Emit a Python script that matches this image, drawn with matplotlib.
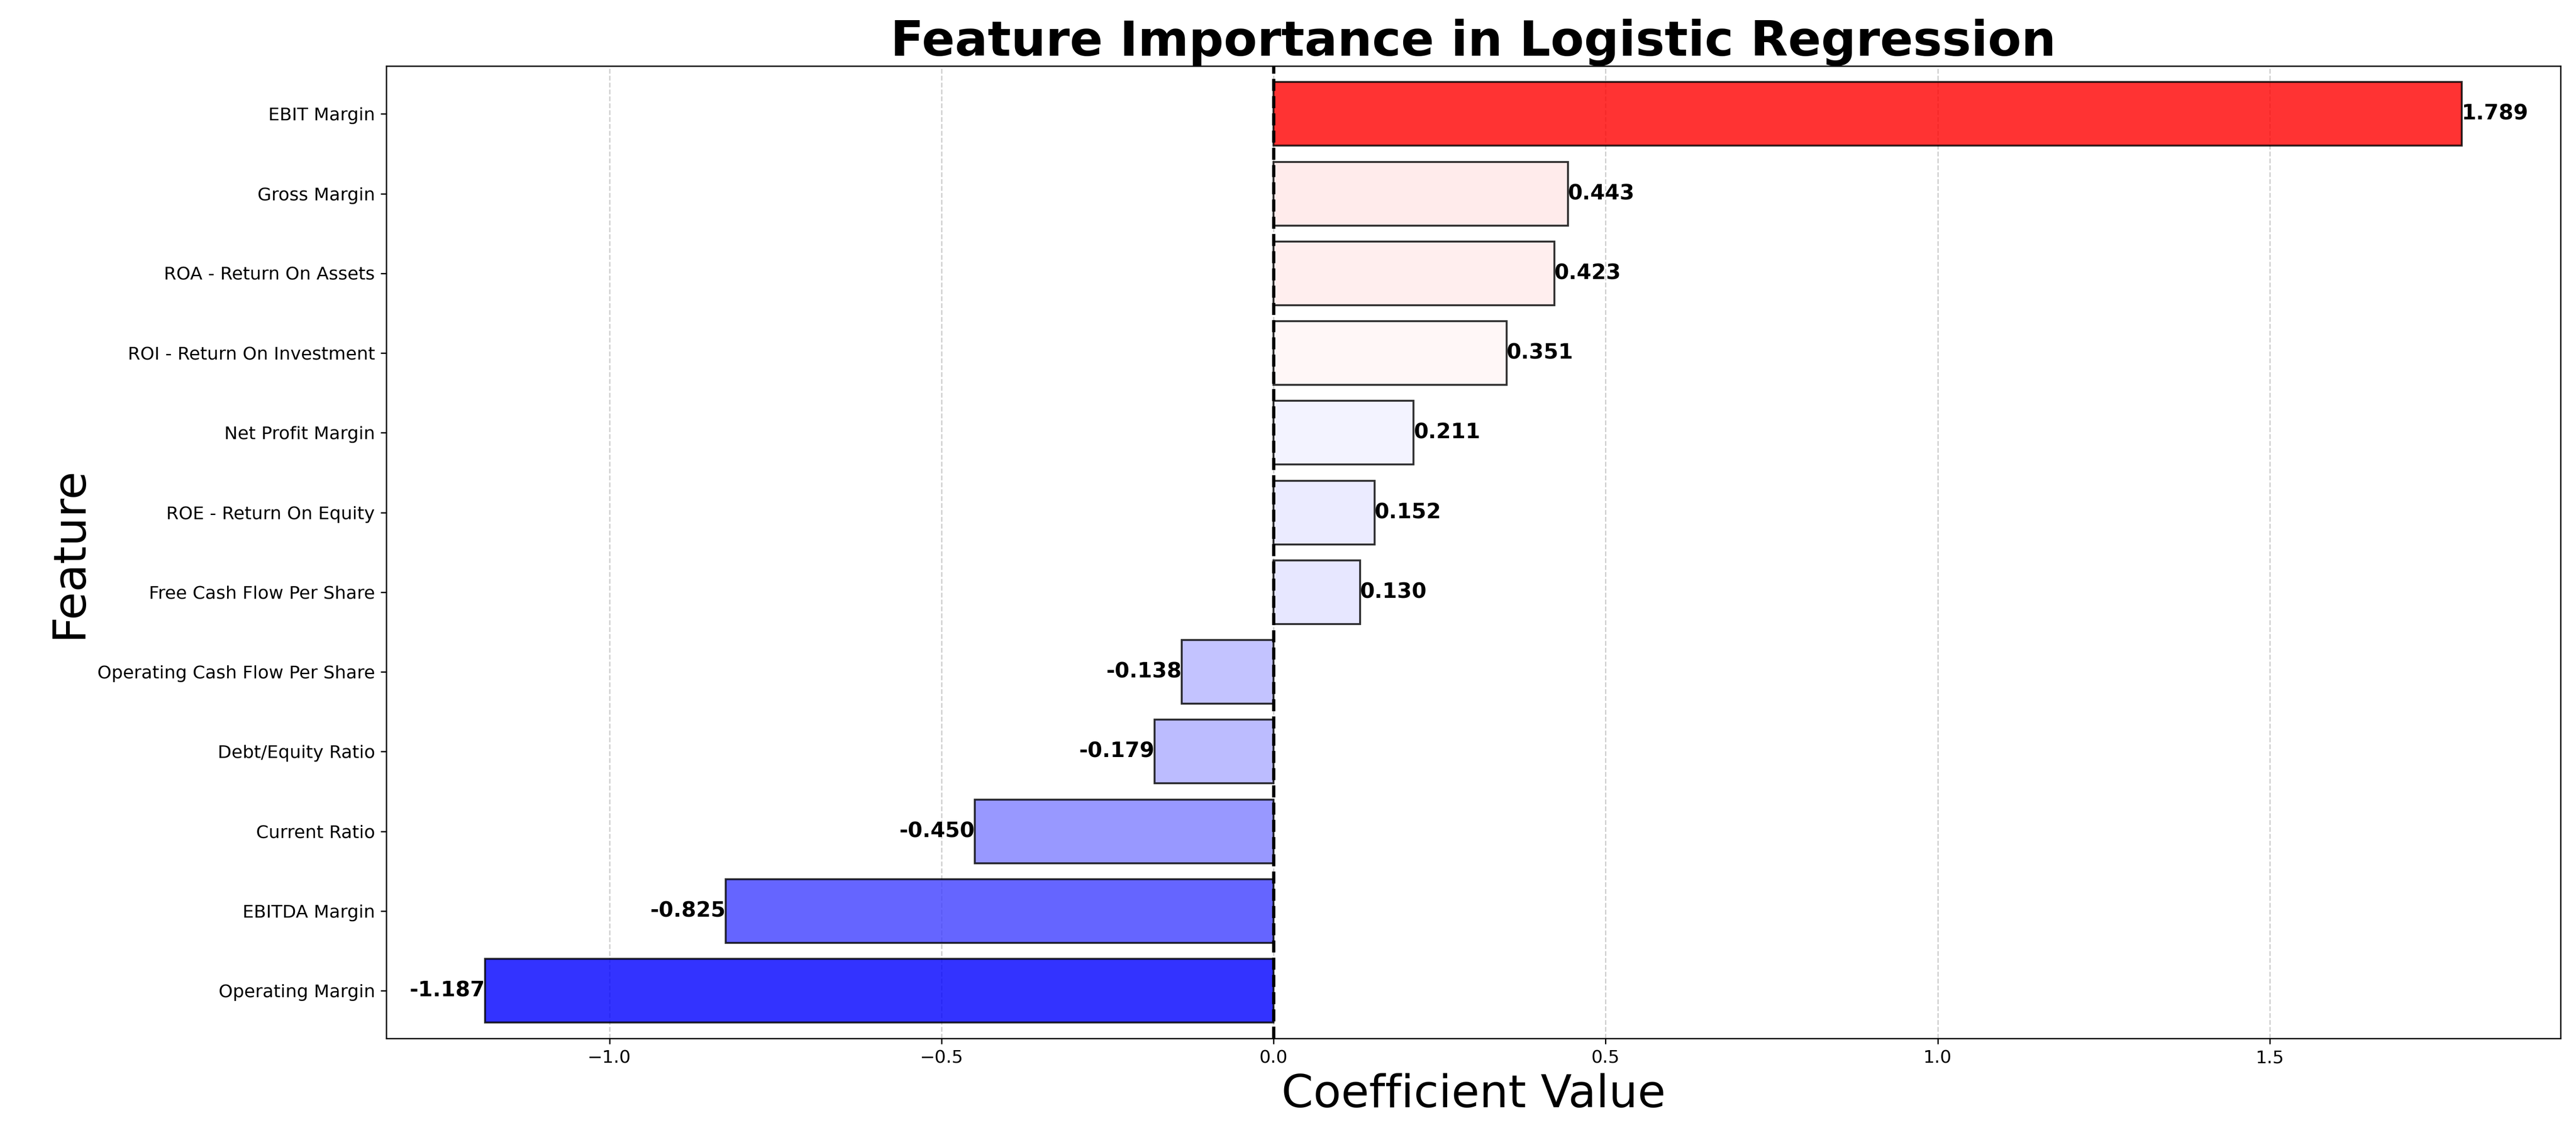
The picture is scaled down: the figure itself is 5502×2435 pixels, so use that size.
import numpy as np
import matplotlib.pyplot as plt
import matplotlib.colors as mcolors

features = ['Operating Margin', 'EBITDA Margin', 'Current Ratio', 'Debt/Equity Ratio',
            'Operating Cash Flow Per Share', 'Free Cash Flow Per Share', 'ROE - Return On Equity',
            'Net Profit Margin', 'ROI - Return On Investment', 'ROA - Return On Assets',
            'Gross Margin', 'EBIT Margin']
coefs = [-1.187, -0.825, -0.450, -0.179, -0.138, 0.130, 0.152, 0.211, 0.351, 0.423, 0.443, 1.789]

coefs = np.array(coefs)
norm = mcolors.Normalize(vmin=coefs.min(), vmax=coefs.max())
colors = plt.cm.bwr(norm(coefs))

fig, ax = plt.subplots(figsize=(22.008, 9.74), dpi=250)
fig.subplots_adjust(left=0.15, right=0.994, top=0.942, bottom=0.089)
ax.barh(features, coefs, color=colors, alpha=0.8, edgecolor='black', linewidth=1.2)
ax.axvline(0, color='black', linestyle='--', linewidth=2)
ax.grid(axis='x', linestyle='--', alpha=0.6)
ax.set_axisbelow(True)

for i, v in enumerate(coefs):
    ax.text(v, i, f'{v:.3f}', va='center', ha='left' if v > 0 else 'right',
            fontsize=13, fontweight='bold')

ax.set_title('Feature Importance in Logistic Regression', fontsize=30, fontweight='bold')
ax.set_xlabel('Coefficient Value', fontsize=28)
ax.set_ylabel('Feature', fontsize=28)
ax.tick_params(labelsize=11)
ax.set_ylim(-0.6, 11.6)

fig.savefig('out.png', dpi=250)
